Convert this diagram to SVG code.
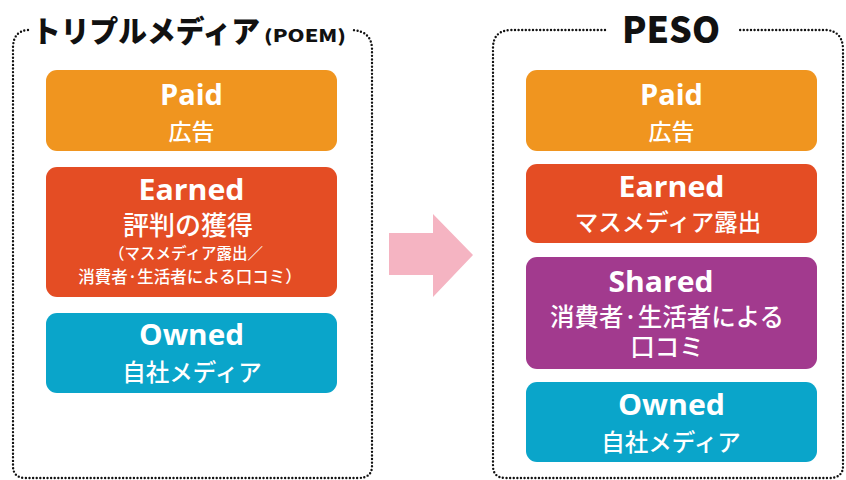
<svg xmlns="http://www.w3.org/2000/svg" width="846" height="480" viewBox="0 0 846 480">
<style>
.frame{fill:none;stroke:#111;stroke-width:2.4;stroke-linecap:round;stroke-dasharray:0 3.6}
.en{font-family:"Open Sans","Noto Sans",sans-serif;font-weight:700;fill:#fff;text-anchor:middle}
.jp{font-family:"Noto Sans CJK JP",sans-serif;font-weight:500;fill:#fff;text-anchor:middle}
.title{font-family:"Noto Sans CJK JP",sans-serif;font-weight:900;fill:#111}
.paid{fill:#F0951F}.earned{fill:#E44D24}.shared{fill:#A23A8E}.owned{fill:#0AA5CA}
</style>
<rect width="846" height="480" fill="#fff"/>
<g id="frame-left">
<path class="frame" d="M28 30 Q13 31 13 48 L13 466 Q13 478 26 478 L358 478 Q372 478 372 466 L372 48 Q371 31 352 30"/>
<text class="title" x="32" y="42" font-size="30" textLength="228" lengthAdjust="spacingAndGlyphs">トリプルメディア</text>
<text class="title" x="264" y="42" font-size="17" font-weight="700" font-family="&quot;Open Sans&quot;,&quot;Liberation Sans&quot;,sans-serif" textLength="82" lengthAdjust="spacingAndGlyphs">(POEM)</text>
</g>
<g id="frame-right">
<path class="frame" d="M605 30 L510 30 Q493 31 493 48 L493 466 Q493 478 506 478 L829 478 Q843 478 843 466 L843 48 Q842 31 826 30 L740 30"/>
<text class="title" x="671" y="43" font-size="36" font-weight="700" font-family="&quot;Open Sans&quot;,&quot;Liberation Sans&quot;,sans-serif" text-anchor="middle" textLength="98" lengthAdjust="spacingAndGlyphs">PESO</text>
</g>
<g id="arrow">
<path d="M389 233 L433 233 L433 214 L473 255 L433 297 L433 275 L389 275 Z" fill="#F5B4C2"/>
</g>
<g id="left-paid">
<rect class="paid" x="46" y="70" width="291" height="81" rx="11"/>
<text class="en" x="191.5" y="105" font-size="28" textLength="63" lengthAdjust="spacingAndGlyphs">Paid</text>
<text class="jp" x="191.5" y="140" font-size="23">広告</text>
</g>
<g id="left-earned">
<rect class="earned" x="46" y="167" width="291" height="130" rx="11"/>
<text class="en" x="191.5" y="200" font-size="28" textLength="106" lengthAdjust="spacingAndGlyphs">Earned</text>
<text class="jp" x="188" y="235" font-size="26">評判の獲得</text>
<text class="jp" x="186" y="259" font-size="15.5">（マスメディア露出／</text>
<text class="jp" x="190" y="283" font-size="16.5">消費者·生活者による口コミ）</text>
</g>
<g id="left-owned">
<rect class="owned" x="46" y="313" width="291" height="80" rx="11"/>
<text class="en" x="191.5" y="345" font-size="28" textLength="105" lengthAdjust="spacingAndGlyphs">Owned</text>
<text class="jp" x="192" y="381" font-size="23.5">自社メディア</text>
</g>
<g id="right-paid">
<rect class="paid" x="526" y="70" width="291" height="81" rx="11"/>
<text class="en" x="671.5" y="105" font-size="28" textLength="63" lengthAdjust="spacingAndGlyphs">Paid</text>
<text class="jp" x="671.5" y="140" font-size="23">広告</text>
</g>
<g id="right-earned">
<rect class="earned" x="526" y="164" width="291" height="79" rx="11"/>
<text class="en" x="671.5" y="197" font-size="28" textLength="106" lengthAdjust="spacingAndGlyphs">Earned</text>
<text class="jp" x="668" y="231" font-size="23.5">マスメディア露出</text>
</g>
<g id="right-shared">
<rect class="shared" x="526" y="257" width="291" height="112" rx="11"/>
<text class="en" x="661" y="292" font-size="28" textLength="105" lengthAdjust="spacingAndGlyphs">Shared</text>
<text class="jp" font-size="24.5"><tspan x="667" y="326">消費者·生活者による</tspan><tspan x="667" y="356">口コミ</tspan></text>
</g>
<g id="right-owned">
<rect class="owned" x="526" y="382" width="291" height="80" rx="11"/>
<text class="en" x="671.5" y="415" font-size="28" textLength="107" lengthAdjust="spacingAndGlyphs">Owned</text>
<text class="jp" x="671" y="451" font-size="23.5">自社メディア</text>
</g>
</svg>
